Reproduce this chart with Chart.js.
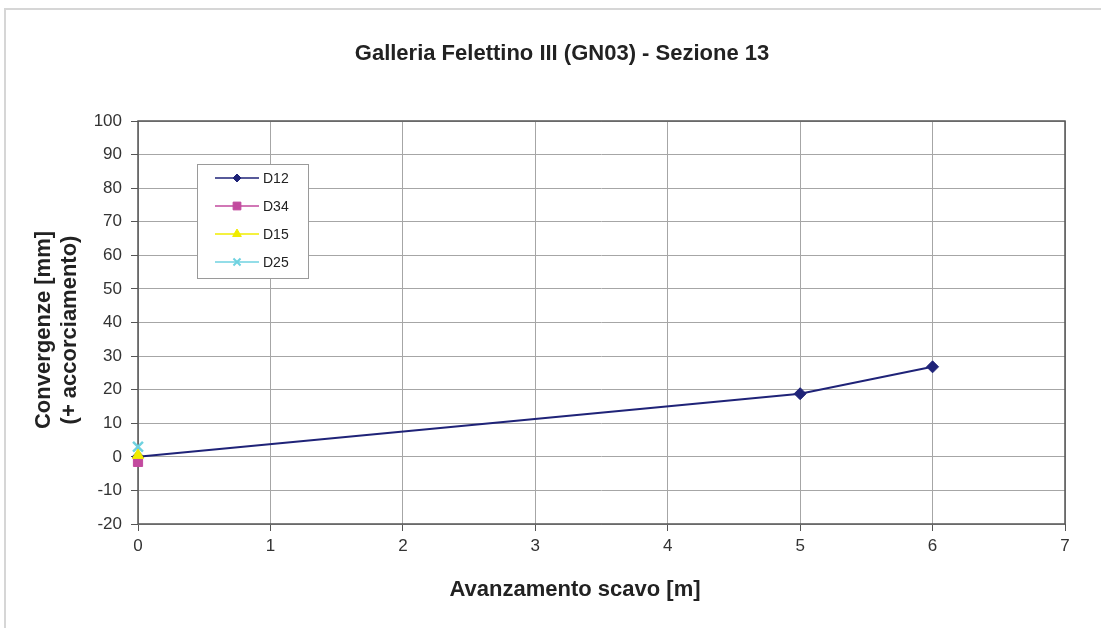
<!DOCTYPE html>
<html>
<head>
<meta charset="utf-8">
<script src="https://cdn.jsdelivr.net/npm/chart.js@4.4.1/dist/chart.umd.min.js"></script>
<style>
  html, body { margin: 0; padding: 0; background: #fff; }
  #wrap { position: relative; width: 1101px; height: 628px; overflow: hidden; }
  #frame { position: absolute; left: 4px; top: 8px; width: 1200px; height: 700px;
           border-top: 2px solid #d6d6d6; border-left: 2px solid #d6d6d6; }
  canvas { position: absolute; left: 0; top: 0; }
</style>
</head>
<body>
<div id="wrap">
  <div id="frame"></div>
  <canvas id="conv" width="1101" height="628"></canvas>
</div>
<script>
  const chartTitle = 'Galleria Felettino III (GN03) - Sezione 13';
  const xTitle = 'Avanzamento scavo [m]';
  const yTitle = ['Convergenze [mm]', '(+ accorciamento)'];

  // avanzamento scavo [m]
  const avanzamentoD12 = [0, 5, 6];
  const avanzamentoAltri = [0];

  // convergenze [mm]
  const d12 = [0, 18.8, 26.8];
  const d34 = [-1.5];
  const d15 = [0.5];
  const d25 = [3];

  const xTicks = [0, 1, 2, 3, 4, 5, 6, 7];
  const yTicks = [-20, -10, 0, 10, 20, 30, 40, 50, 60, 70, 80, 90, 100];

  const toPoints = (xs, ys) => ys.map((y, i) => ({ x: xs[i], y }));

  const FONT = '"Liberation Sans", Arial, sans-serif';

  const series = [
    { label: 'D12', data: toPoints(avanzamentoD12, d12), color: '#1f2378', style: 'rectRot', radius: 6, legendRadius: 4, order: 4 },
    { label: 'D34', data: toPoints(avanzamentoAltri, d34), color: '#c24a9e', style: 'rect', radius: 6.5, legendRadius: 5.5, order: 3 },
    { label: 'D15', data: toPoints(avanzamentoAltri, d15), color: '#f0ec00', style: 'triangle', radius: 6.5, legendRadius: 5, order: 2 },
    { label: 'D25', data: toPoints(avanzamentoAltri, d25), color: '#6fd2e0', style: 'crossRot', radius: 7, legendRadius: 5, order: 1 }
  ];

  // plot frame + titles
  const decorPlugin = {
    id: 'decor',
    beforeDatasetsDraw(chart) {
      const { ctx, chartArea: a } = chart;
      ctx.save();
      ctx.strokeStyle = '#555';
      ctx.lineWidth = 1.5;
      ctx.strokeRect(a.left, a.top, a.right - a.left, a.bottom - a.top);
      ctx.restore();
    },
    afterDraw(chart) {
      const ctx = chart.ctx;
      ctx.save();
      ctx.fillStyle = '#222';
      ctx.textAlign = 'center';
      ctx.textBaseline = 'middle';
      ctx.font = 'bold 22px ' + FONT;
      ctx.fillText(chartTitle, 562, 54);
      ctx.fillText(xTitle, 575, 590);
      ctx.translate(57, 330);
      ctx.rotate(-Math.PI / 2);
      ctx.fillText(yTitle[0], 0, -13);
      ctx.fillText(yTitle[1], 0, 13);
      ctx.restore();
    }
  };

  // boxed legend inside the plot
  const legendPlugin = {
    id: 'boxLegend',
    afterDraw(chart) {
      const ctx = chart.ctx;
      const box = { x: 197, y: 164, w: 111, h: 114 };
      ctx.save();
      ctx.fillStyle = '#fff';
      ctx.fillRect(box.x, box.y, box.w, box.h);
      ctx.strokeStyle = '#9a9a9a';
      ctx.lineWidth = 1;
      ctx.strokeRect(box.x + 0.5, box.y + 0.5, box.w, box.h);
      ctx.font = '14px ' + FONT;
      ctx.textBaseline = 'middle';
      chart.data.datasets.forEach((ds, i) => {
        const y = box.y + 14 + i * 28;
        ctx.strokeStyle = ds.borderColor;
        ctx.lineWidth = 1.5;
        ctx.beginPath();
        ctx.moveTo(box.x + 18, y);
        ctx.lineTo(box.x + 62, y);
        ctx.stroke();
        ctx.fillStyle = ds.backgroundColor;
        ctx.strokeStyle = ds.borderColor;
        ctx.lineWidth = ds.pointStyle === 'crossRot' ? 2 : 1;
        Chart.helpers.drawPoint(ctx, {
          pointStyle: ds.pointStyle,
          radius: series[i].legendRadius,
          borderWidth: ds.pointStyle === 'crossRot' ? 2 : 1,
          rotation: 0
        }, box.x + 40, y);
        ctx.fillStyle = '#222';
        ctx.fillText(ds.label, box.x + 66, y + 1);
      });
      ctx.restore();
    }
  };

  new Chart(document.getElementById('conv'), {
    type: 'scatter',
    data: {
      datasets: series.map((s) => ({
        label: s.label,
        data: s.data,
        showLine: true,
        clip: false,
        borderColor: s.color,
        backgroundColor: s.color,
        borderWidth: 2,
        pointStyle: s.style,
        pointRadius: s.radius,
        pointHoverRadius: s.radius,
        pointBorderWidth: s.style === 'crossRot' ? 2.5 : 1,
        order: s.order
      }))
    },
    options: {
      responsive: false,
      animation: false,
      layout: { padding: { left: 0, top: 121, right: 36, bottom: 0 } },
      plugins: {
        legend: { display: false },
        title: { display: false },
        tooltip: { enabled: false }
      },
      scales: {
        x: {
          type: 'linear',
          min: xTicks[0],
          max: xTicks[xTicks.length - 1],
          afterFit: (scale) => { scale.height = 104; },
          afterBuildTicks: (scale) => { scale.ticks = xTicks.map((v) => ({ value: v })); },
          ticks: { font: { size: 17, family: FONT }, color: '#333', padding: 5 },
          grid: { color: '#a6a6a6', lineWidth: 1, tickLength: 7, tickColor: '#555' },
          border: { display: false }
        },
        y: {
          type: 'linear',
          min: yTicks[0],
          max: yTicks[yTicks.length - 1],
          afterFit: (scale) => { scale.width = 138; },
          afterBuildTicks: (scale) => { scale.ticks = yTicks.map((v) => ({ value: v })); },
          ticks: { font: { size: 17, family: FONT }, color: '#333', padding: 9 },
          grid: { color: '#a6a6a6', lineWidth: 1, tickLength: 7, tickColor: '#555' },
          border: { display: false }
        }
      }
    },
    plugins: [decorPlugin, legendPlugin]
  });
</script>
</body>
</html>
